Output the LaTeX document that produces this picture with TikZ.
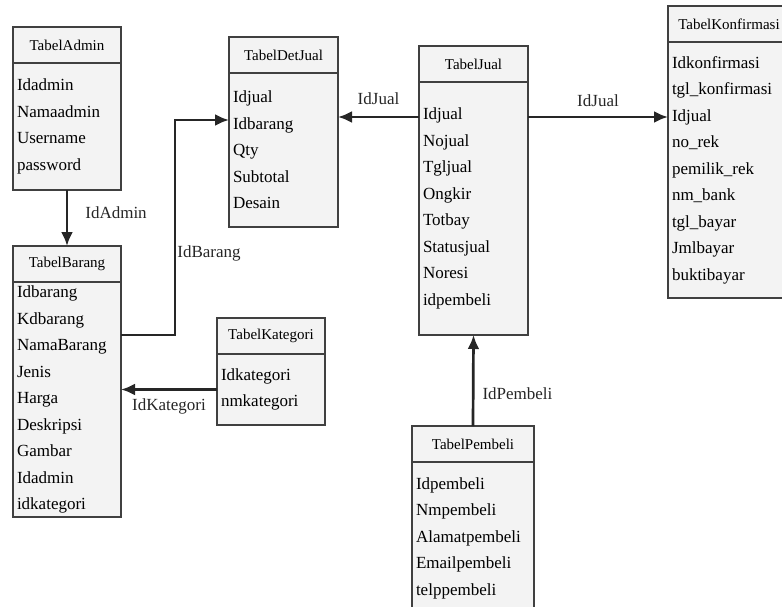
\documentclass[tikz,border=0pt]{standalone}
\usepackage{fontspec}
\setmainfont{Liberation Serif}
\usepackage{tikz}
\usetikzlibrary{positioning,arrows.meta,calc}
\definecolor{boxline}{HTML}{404040}
\definecolor{boxfill}{HTML}{F3F3F3}
\tikzset{
  tbl/.style={draw=boxline, fill=boxfill, line width=1.4pt, outer sep=0pt, minimum width=#1},
  tblhead/.style={tbl=#1, minimum height=36, inner sep=0pt, font=\fontsize{15}{18}\selectfont},
  tblbody/.style={tbl=#1, text width=#1-8, inner xsep=4pt, inner ysep=0pt, align=left,
    font=\fontsize{17}{26.5}\selectfont},
  link/.style={-{Latex[length=14pt,width=12pt]}, line width=2.7pt, black!85},
  lab/.style={font=\fontsize{17}{20}\selectfont, inner sep=1pt},
}

\begin{document}
\begin{tikzpicture}[x=1pt, y=-1pt]
    \useasboundingbox (0,0) rectangle (782,606);
    \node[tblhead=108, anchor=north west] (adminh) at (13,27) {TabelAdmin};
    \node[tblbody=108, minimum height=127, below=0pt of adminh] (adminb) {Idadmin\\Namaadmin\\Username\\password};
    \node[tblhead=108, anchor=north west] (barangh) at (13,246) {TabelBarang};
    \node[tblbody=108, minimum height=235, below=0pt of barangh] (barangb) {Idbarang\\Kdbarang\\NamaBarang\\Jenis\\Harga\\Deskripsi\\Gambar\\Idadmin\\idkategori};
    \node[tblhead=109, anchor=north west] (deth) at (229,37) {TabelDetJual};
    \node[tblbody=109, minimum height=154, below=0pt of deth] (detb) {Idjual\\Idbarang\\Qty\\Subtotal\\Desain};
    \node[tblhead=109, anchor=north west] (jualh) at (419,46) {TabelJual};
    \node[tblbody=109, minimum height=253, below=0pt of jualh] (jualb) {Idjual\\Nojual\\Tgljual\\Ongkir\\Totbay\\Statusjual\\Noresi\\idpembeli};
    \node[tblhead=122, anchor=north west] (konfh) at (668,6) {TabelKonfirmasi};
    \node[tblbody=122, minimum height=256, below=0pt of konfh] (konfb) {Idkonfirmasi\\tgl\_konfirmasi\\Idjual\\no\_rek\\pemilik\_rek\\nm\_bank\\tgl\_bayar\\Jmlbayar\\buktibayar};
    \node[tblhead=108, anchor=north west] (kath) at (217,318) {TabelKategori};
    \node[tblbody=108, minimum height=71, below=0pt of kath] (katb) {Idkategori\\nmkategori};
    \node[tblhead=122, anchor=north west] (pembh) at (412,426) {TabelPembeli};
    \node[tblbody=122, minimum height=152, below=0pt of pembh] (pembb) {Idpembeli\\Nmpembeli\\Alamatpembeli\\Emailpembeli\\telppembeli};
    \draw[link] (adminb.south) -- node[lab, right=16pt, pos=0.4] {IdAdmin} (barangh.north);
    \draw[link] ($(barangb.north east)+(0,53)$) -- ++(54,0) |- node[lab, right, pos=0.19] {IdBarang} ($(detb.north west)+(0,47)$);
    \draw[link] (katb.west) -- node[lab, below=7pt] {IdKategori} (katb.west -| barangb.east);
    \draw[link] ($(jualb.north west)+(0,35)$) -- node[lab, above=10pt] {IdJual} ($(detb.north east)+(0,44)$);
    \draw[link] ($(jualb.north east)+(0,35)$) -- node[lab, above=8pt] {IdJual} ($(konfb.north west)+(0,75)$);
    \draw[link] (pembh.north) -- node[lab, right=7pt, pos=0.36] {IdPembeli} (jualb.south);
  \end{tikzpicture}
\end{document}
